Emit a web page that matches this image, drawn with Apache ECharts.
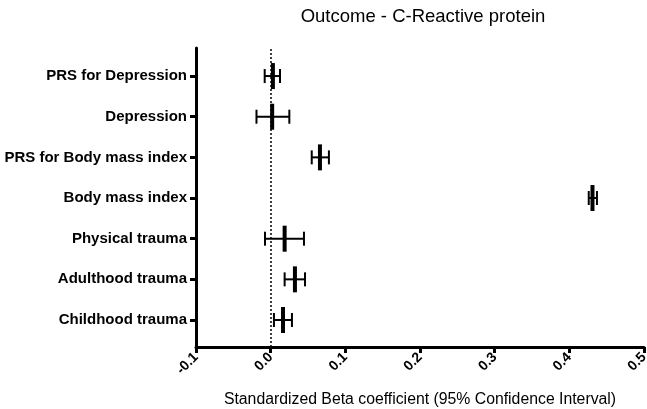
<!DOCTYPE html>
<html><head><meta charset="utf-8">
<script src="https://cdn.jsdelivr.net/npm/echarts@6/dist/echarts.min.js"></script>
<style>html,body{margin:0;padding:0;background:#fff}#c{width:647px;height:409px}</style>
</head><body><div id="c"></div>
<script>
// Rows listed bottom to top (y position 1..7)
const categories = ["Childhood trauma","Adulthood trauma","Physical trauma","Body mass index","PRS for Body mass index","Depression","PRS for Depression"];
const estimates = [0.0165, 0.0325, 0.0187, 0.431, 0.066, 0.002, 0.003];
const lowerCI   = [0.0044, 0.0187, -0.0076, 0.426, 0.055, -0.019, -0.008];
const upperCI   = [0.0285, 0.046, 0.0446, 0.437, 0.078, 0.025, 0.0125];
const xTicks = [-0.1, 0.0, 0.1, 0.2, 0.3, 0.4, 0.5];

const rows = categories.map((c,i)=>[lowerCI[i], estimates[i], upperCI[i], i+1]);
const font = "'Liberation Sans', Arial, Helvetica, sans-serif";

const chart = echarts.init(document.getElementById('c'), null, {renderer:'canvas'});
chart.setOption({
  animation:false,
  backgroundColor:'#fff',
  title:{text:'Outcome - C-Reactive protein', left:418, textAlign:'center', top:2,
    textStyle:{fontFamily:font, fontSize:18.5, fontWeight:'normal', color:'#000'}},
  grid:{left:196, right:3, top:48, bottom:62, containLabel:false, outerBoundsMode:'none'},
  xAxis:{type:'value', min:-0.1, max:0.5, interval:0.1,
    name:'Standardized Beta coefficient (95% Confidence Interval)', nameLocation:'middle', nameGap:45,
    nameTextStyle:{fontFamily:font, fontSize:15.8, color:'#000'},
    axisLine:{show:true, onZero:false, lineStyle:{color:'#000', width:3}},
    axisTick:{show:true, customValues:xTicks, length:6, lineStyle:{color:'#000', width:3}},
    axisLabel:{customValues:xTicks, rotate:45, margin:8, fontFamily:font, fontSize:14, fontWeight:'bold', color:'#000',
      formatter:v=>v.toFixed(1)},
    splitLine:{show:false}},
  yAxis:{type:'value', min:0.336, max:7.69,
    axisLine:{show:true, onZero:false, lineStyle:{color:'#000', width:3}},
    axisTick:{show:true, customValues:[1,2,3,4,5,6,7], length:6, lineStyle:{color:'#000', width:3}},
    axisLabel:{customValues:[1,2,3,4,5,6,7], margin:9, fontFamily:font, fontSize:15, fontWeight:'bold', color:'#000',
      formatter:v=>categories[Math.round(v)-1]},
    splitLine:{show:false}},
  series:[{
    type:'custom',
    data:rows,
    encode:{x:[0,1,2], y:3},
    renderItem:function(params, api){
      const y = api.value(3);
      const lo = api.coord([api.value(0), y]);
      const mid = api.coord([api.value(1), y]);
      const hi = api.coord([api.value(2), y]);
      const st = {stroke:'#000', lineWidth:2};
      return {type:'group', children:[
        {type:'line', shape:{x1:lo[0], y1:lo[1], x2:hi[0], y2:hi[1]}, style:st},
        {type:'line', shape:{x1:lo[0], y1:lo[1]-7, x2:lo[0], y2:lo[1]+7}, style:st},
        {type:'line', shape:{x1:hi[0], y1:hi[1]-7, x2:hi[0], y2:hi[1]+7}, style:st},
        {type:'line', shape:{x1:mid[0], y1:mid[1]-13, x2:mid[0], y2:mid[1]+13}, style:{stroke:'#000', lineWidth:4}}
      ]};
    },
    markLine:{silent:true, symbol:'none', label:{show:false},
      lineStyle:{color:'#000', type:[2,2], width:1.5},
      data:[{xAxis:0}]}
  }]
});
</script></body></html>
